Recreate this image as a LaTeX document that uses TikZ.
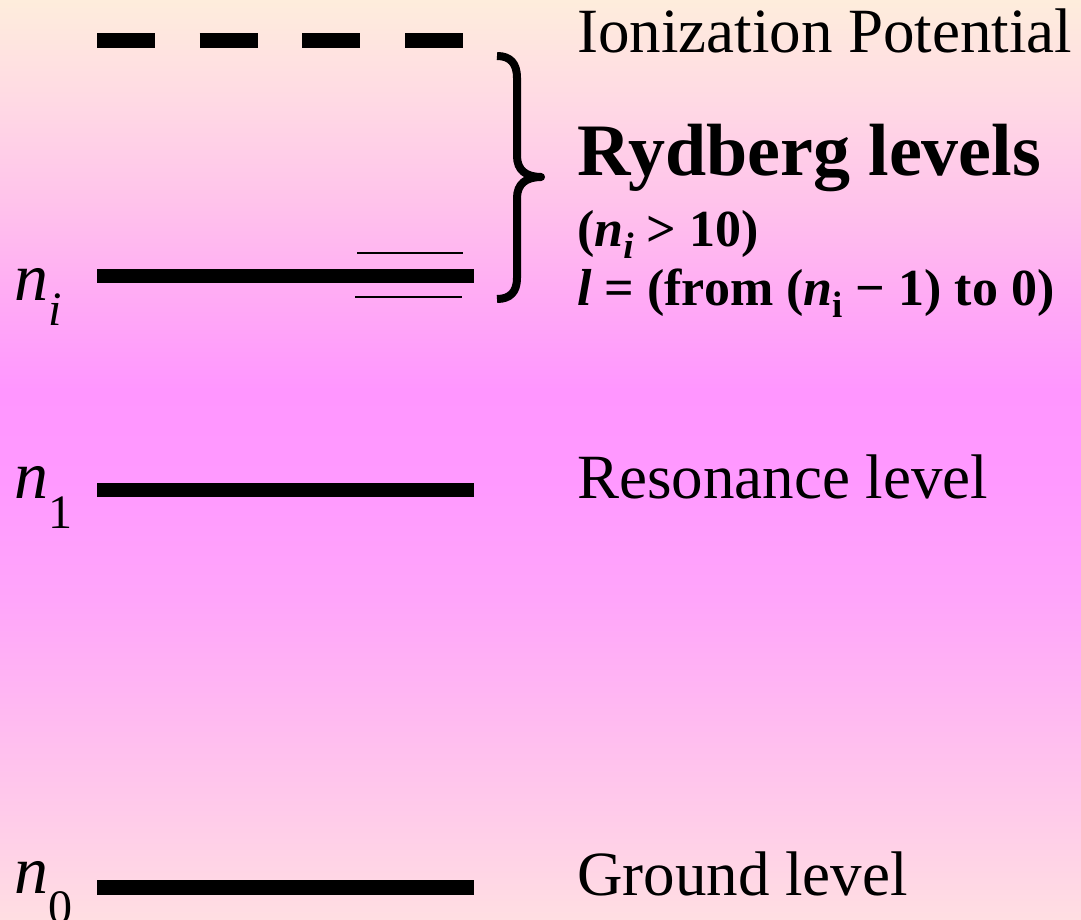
\documentclass[tikz,border=0pt]{standalone}
\usepackage{fontspec}
\setmainfont{Liberation Serif}
\definecolor{cT}{RGB}{254,237,220}
\definecolor{cA}{RGB}{255,218,228}
\definecolor{cB}{RGB}{255,195,235}
\definecolor{cC}{RGB}{255,170,245}
\definecolor{cD}{RGB}{255,150,255}
\definecolor{cE}{RGB}{255,153,255}
\definecolor{cF}{RGB}{255,165,250}
\definecolor{cG}{RGB}{255,192,238}
\definecolor{cZ}{RGB}{255,222,226}
\pgfdeclareverticalshading{bgshade}{100bp}{color(0bp)=(cZ); color(25bp)=(cZ); color(34.2bp)=(cG); color(42.4bp)=(cF); color(48.9bp)=(cE); color(53.8bp)=(cD); color(58.7bp)=(cC); color(64.1bp)=(cB); color(69.6bp)=(cA); color(75bp)=(cT); color(100bp)=(cT)}
\newcommand\lowsub[3]{\raisebox{-#1pt}{\fontsize{#2}{#2}\selectfont #3}}
\begin{document}
\begin{tikzpicture}[x=1pt,y=-1pt,
  level/.style={line width=14.5pt},
  thinlev/.style={line width=2pt},
  bracestroke/.style={line width=8pt, line join=round},
  lbl/.style={anchor=base west, inner sep=0pt, font=\fontsize{63}{63}\selectfont},
  nlbl/.style={anchor=base west, inner sep=0pt, font=\fontsize{68}{68}\selectfont},
  biglbl/.style={anchor=base west, inner sep=0pt, font=\fontsize{74}{74}\selectfont\bfseries},
  smalllbl/.style={anchor=base west, inner sep=0pt, font=\fontsize{52}{52}\selectfont\bfseries}]
\useasboundingbox (0,0) rectangle (1081,920);
\shade[shading=bgshade] (0,0) rectangle (1081,920);
% levels
\coordinate (ipL) at (97,40.5);
\coordinate (ipR) at (463,40.5);
\draw[level, dash pattern=on 58pt off 44.67pt] (ipL) -- (ipR);
\coordinate (niL) at (97,276);
\coordinate (niR) at (474,276);
\draw[level] (niL) -- (niR);
\coordinate (tuL) at (357,253);
\coordinate (tuR) at (463,253);
\draw[thinlev] (tuL) -- (tuR);
\coordinate (tdL) at (355,297);
\coordinate (tdR) at (462,297);
\draw[thinlev] (tdL) -- (tdR);
\coordinate (n1L) at (97,490);
\coordinate (n1R) at (474,490);
\draw[level] (n1L) -- (n1R);
\coordinate (n0L) at (97,887.5);
\coordinate (n0R) at (474,887.5);
\draw[level] (n0L) -- (n0R);
% brace
\draw[bracestroke] (497,56) .. controls (510,56) and (517,63) .. (517,78) -- (517,156)
  .. controls (517,170) and (526,177) .. (541,177)
  .. controls (526,177) and (517,184) .. (517,198) -- (517,278)
  .. controls (517,292) and (510,299) .. (497,299);
% labels
\node[lbl] (ip) at (577,53) {Ionization Potential};
\node[biglbl] (ryd) at (577,176) {Rydberg levels};
\node[smalllbl] (ryda) at (577,246) {(\textit{n}\lowsub{13}{37}{\textit{i}} > 10)};
\node[smalllbl] (rydb) at (577,305) {\textit{l} = (from (\textit{n}\lowsub{12}{37}{i} − 1) to 0)};
\node[lbl] (res) at (577,498) {Resonance level};
\node[lbl] (gnd) at (577,895) {Ground level};
\node[nlbl] (ni) at (14,300) {\textit{n}\lowsub{25}{48}{\textit{i}}};
\node[nlbl] (n1) at (14,498) {\textit{n}\lowsub{30}{48}{1}};
\node[nlbl] (n0) at (14,893) {\textit{n}\lowsub{30}{48}{0}};
\end{tikzpicture}
\end{document}
